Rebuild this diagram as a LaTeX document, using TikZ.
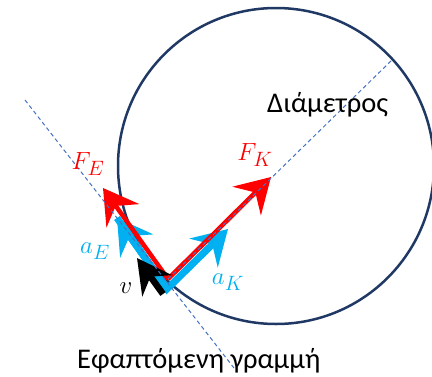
\documentclass[tikz,border=0pt]{standalone}
\usepackage{fontspec}
\setmainfont{Carlito}
\usetikzlibrary{arrows.meta}
\definecolor{circ}{RGB}{31,56,100}
\definecolor{dashc}{RGB}{68,114,196}
\definecolor{vred}{RGB}{255,0,0}
\definecolor{vblue}{RGB}{0,176,240}
\tikzset{
  vecred/.style={draw=vred, line width=4.5pt, -{Stealth[length=34pt 0,width=40pt 0,inset=12pt 0]}},
  vecblue/.style={draw=vblue, line width=7pt, -{Stealth[length=34pt 0,width=40pt 0,inset=12pt 0]}},
  vecblack/.style={draw=black, line width=6.5pt, -{Stealth[length=34pt 0,width=36pt 0,inset=11pt 0]}},
  guide/.style={draw=dashc, line width=1pt, dash pattern=on 4pt off 3pt},
  lab/.style={inner sep=0pt, font=\fontsize{28}{32}\selectfont},
  txt/.style={inner sep=0pt, anchor=base west, font=\fontsize{28.5}{32}\selectfont}
}
\begin{document}
\begin{tikzpicture}[x=1pt,y=-1pt]
\useasboundingbox (0,0) rectangle (432,376);
% circle
\node[draw=circ, line width=2.5pt, circle, minimum size=316pt, inner sep=0pt] (C) at (276,166) {};
% points
\coordinate (Or) at (168,279);
\coordinate (FEt) at (103,188);
\coordinate (FKt) at (271,177);
\coordinate (Ob) at (167,289);
\coordinate (aEt) at (117,218);
\coordinate (aKt) at (228,229);
\coordinate (vs) at (163,294);
\coordinate (vt) at (137,258);
\coordinate (T1) at (25,100);
\coordinate (T2) at (234,368);
\coordinate (D1) at (393,59);
% blue vectors
\draw[vecblue] (aEt) -- (Ob) -- (aKt);
\draw[vecblue] (Ob) -- (aEt);
% red vectors
\draw[vecred] (Or) -- (FEt);
\draw[vecred] (Or) -- (FKt);
% black vector
\draw[vecblack] (vs) -- (vt);
% guides
\draw[guide] (T1) -- (T2);
\draw[guide] (Or) -- (D1);
% labels
\node[lab, text=vred] (lFE) at (88,164) {$F_E$};
\node[lab, text=vred] (lFK) at (255,155) {$F_K$};
\node[lab, text=vblue] (laE) at (95,251) {$a_E$};
\node[lab, text=vblue] (laK) at (228,282) {$a_K$};
\node[lab, text=black] (lv) at (126,288) {$v$};
\node[txt] (diam) at (267,112) {Διάμετρος};
\node[txt] (tang) at (77,368) {Εφαπτόμενη γραμμή};
\end{tikzpicture}
\end{document}
